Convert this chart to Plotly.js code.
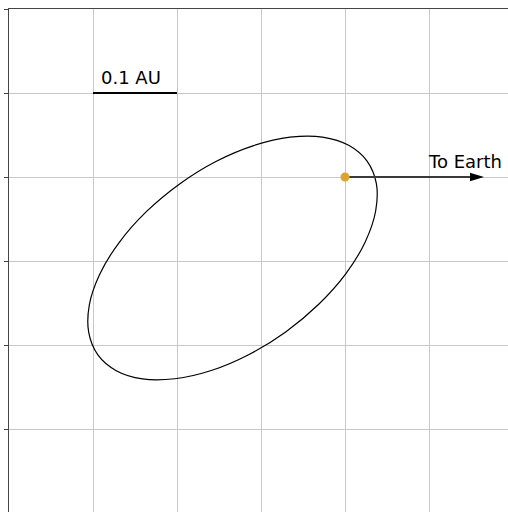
<!DOCTYPE html>
<html>
<head>
<meta charset="utf-8">
<script src="https://cdn.plot.ly/plotly-3.0.1.min.js"></script>
<style>html,body{margin:0;padding:0;background:#fff;overflow:hidden}</style>
</head>
<body>
<div id="chart" style="width:508px;height:512px"></div>
<script>
// Orbit (AU, sun at origin)
const orbitX = [0.0263, 0.0373, 0.0365, 0.0242, 0.0011, -0.0313, -0.0706, -0.1142, -0.1592, -0.2025, -0.2411, -0.2723, -0.2942, -0.3051, -0.3044, -0.2920, -0.2689, -0.2365, -0.1973, -0.1537, -0.1087, -0.0654, -0.0268, 0.0044, 0.0263];
const orbitY = [0.0189, -0.0077, -0.0405, -0.0770, -0.1150, -0.1515, -0.1844, -0.2113, -0.2304, -0.2402, -0.2404, -0.2306, -0.2118, -0.1851, -0.1524, -0.1158, -0.0780, -0.0413, -0.0085, 0.0185, 0.0374, 0.0474, 0.0475, 0.0377, 0.0189];
const sunX = [0];
const sunY = [0];
const arrowX = [0.005, 0.1655];
const arrowY = [0, 0];
const scaleBarX = [-0.3, -0.2];
const scaleBarY = [0.1, 0.1];
const scaleLabel = "0.1 AU";
const earthLabel = "To Earth";
const yTicks = [0.2, 0.1, 0, -0.1, -0.2, -0.3];
const xTicks = [-0.4, -0.3, -0.2, -0.1, 0, 0.1];

const headLen = 14 / 840, headHalf = 4.2 / 840;
const tipX = arrowX[1], tipY = arrowY[1];
const lineX = [arrowX[0], tipX - headLen * 0.8];

const font = "DejaVu Sans, sans-serif";
const traces = [
  {x: orbitX, y: orbitY, type: 'scatter', mode: 'lines', line: {color: '#000', width: 1.2, shape: 'spline', smoothing: 1.0}, hoverinfo: 'skip'},
  {x: lineX, y: arrowY, type: 'scatter', mode: 'lines', line: {color: '#3a3a3a', width: 1.8}, hoverinfo: 'skip'},
  {x: scaleBarX, y: scaleBarY, type: 'scatter', mode: 'lines', line: {color: '#000', width: 2}, hoverinfo: 'skip'},
  {x: sunX, y: sunY, type: 'scatter', mode: 'markers', marker: {color: '#daa52a', size: 9, line: {width: 0}}, hoverinfo: 'skip'}
];
const layout = {
  width: 508, height: 512,
  margin: {l: 9, r: 0, t: 9, b: 0},
  paper_bgcolor: '#fff', plot_bgcolor: '#fff',
  showlegend: false,
  xaxis: {range: [-0.4, 0.19405], side: 'top', showline: true, linecolor: '#444', linewidth: 1,
    tickvals: xTicks, showticklabels: false, ticks: '', showgrid: true, gridcolor: '#c8c8c8', gridwidth: 1, zeroline: false, fixedrange: true},
  yaxis: {range: [-0.39881, 0.2], showline: true, linecolor: '#444', linewidth: 1,
    tickvals: yTicks, showticklabels: false, ticks: 'outside', ticklen: 4, tickcolor: '#444', tickwidth: 1,
    showgrid: true, gridcolor: '#c8c8c8', gridwidth: 1, zeroline: false, fixedrange: true},
  shapes: [{type: 'path', xref: 'x', yref: 'y', layer: 'above',
    path: 'M' + tipX + ',' + tipY + ' L' + (tipX - headLen) + ',' + (tipY + headHalf) + ' L' + (tipX - headLen) + ',' + (tipY - headHalf) + ' Z',
    fillcolor: '#000', line: {width: 0}}],
  annotations: [
    {x: -0.2545, y: 0.1179, xref: 'x', yref: 'y', text: scaleLabel, showarrow: false, xanchor: 'center', yanchor: 'middle', font: {family: font, size: 18, color: '#000'}},
    {x: 0.0964, y: 0.0182, xref: 'x', yref: 'y', text: earthLabel, showarrow: false, xanchor: 'left', yanchor: 'middle', font: {family: font, size: 18, color: '#000'}}
  ]
};
Plotly.newPlot('chart', traces, layout, {staticPlot: true, displayModeBar: false});
</script>
</body>
</html>
